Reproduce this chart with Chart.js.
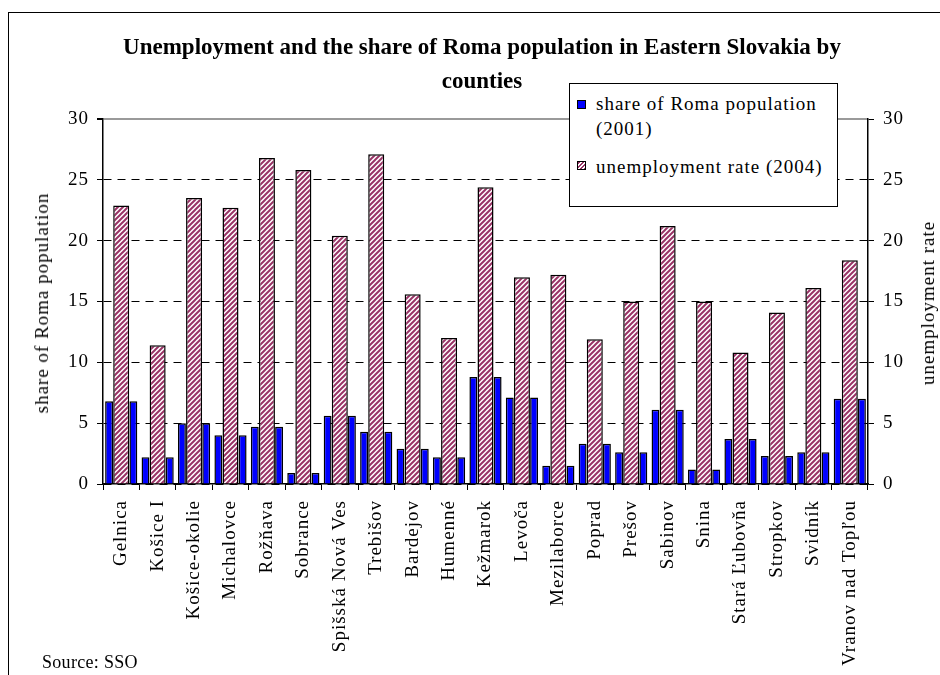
<!DOCTYPE html>
<html>
<head>
<meta charset="utf-8">
<script src="https://cdn.jsdelivr.net/npm/chart.js@4"></script>
<style>
  body { margin: 0; background: #fff; font-family: "Liberation Serif", serif; }
  #wrap { position: relative; width: 940px; height: 675px; overflow: hidden; }
  #frame { position: absolute; left: 8px; top: 12px; width: 960px; height: 700px; border-left: 1px solid #000; border-top: 1px solid #000; }
  canvas { position: absolute; left: 0; top: 0; }
  .title { position: absolute; left: 0; width: 964px; text-align: center; font-weight: bold; font-size: 23px; line-height: 26px; }
  .rot { position: absolute; white-space: nowrap; font-size: 19px; letter-spacing: 1px; transform: translate(-50%, -50%) rotate(-90deg); }
  #legend { position: absolute; left: 569px; top: 83px; width: 269px; height: 124px; box-sizing: border-box; border: 1px solid #000; background: #fff; font-size: 19px; letter-spacing: 1px; }
  #legend .sw { position: absolute; width: 9px; height: 9px; box-sizing: border-box; border: 1.5px solid #000; }
  #legend .tx { position: absolute; left: 26px; width: 240px; line-height: 25px; }
  #source { position: absolute; left: 42px; top: 652px; font-size: 18px; letter-spacing: 0.3px; }
</style>
</head>
<body>
<div id="wrap">
  <div id="frame"></div>
  <canvas id="chart" width="940" height="675"></canvas>
  <div class="title" style="top:34px">Unemployment and the share of Roma population in Eastern Slovakia by</div>
  <div class="title" style="top:68px">counties</div>
  <div class="rot" style="left:42px; top:303px">share of Roma population</div>
  <div class="rot" style="left:928px; top:303px">unemployment rate</div>
  <div id="legend">
    <div class="sw" style="left:7px; top:16px; background:#0000ff"></div>
    <div class="tx" style="top:7px">share of Roma population (2001)</div>
    <div class="sw" style="left:7px; top:77px; background:repeating-linear-gradient(135deg, #993366 0 1.5px, #fff 1.5px 3px)"></div>
    <div class="tx" style="top:70px">unemployment rate (2004)</div>
  </div>
  <div id="source">Source: SSO</div>
</div>
<script>
const counties = ['Gelnica', 'Košice I', 'Košice-okolie', 'Michalovce', 'Rožňava', 'Sobrance',
  'Spišská Nová Ves', 'Trebišov', 'Bardejov', 'Humenné', 'Kežmarok', 'Levoča', 'Mezilaborce',
  'Poprad', 'Prešov', 'Sabinov', 'Snina', 'Stará Ľubovňa', 'Stropkov', 'Svidník', 'Vranov nad Topľou'];

// share of Roma population (2001), %
const romaShare = [6.8, 2.2, 5.0, 4.0, 4.7, 0.9, 5.6, 4.3, 2.9, 2.2, 8.8, 7.1, 1.5, 3.3, 2.6, 6.1, 1.2, 3.7, 2.3, 2.6, 7.0];

// unemployment rate (2004), %
const unemploymentRate = [22.9, 11.4, 23.5, 22.7, 26.8, 25.8, 20.4, 27.1, 15.6, 12.0, 24.4, 17.0, 17.2, 11.9, 15.0, 21.2, 15.0, 10.8, 14.1, 16.1, 18.4];

const yTicks = [0, 5, 10, 15, 20, 25, 30];

// diagonal hatch like the excel fill
function hatch() {
  const t = document.createElement('canvas');
  t.width = 5; t.height = 5;
  const g = t.getContext('2d');
  g.fillStyle = '#fff';
  g.fillRect(0, 0, 5, 5);
  g.strokeStyle = '#993366';
  g.lineWidth = 2;
  g.beginPath();
  g.moveTo(0, 5); g.lineTo(5, 0);
  g.moveTo(-1, 1); g.lineTo(1, -1);
  g.moveTo(4, 6); g.lineTo(6, 4);
  g.stroke();
  return g.createPattern(t, 'repeat');
}

const spacing = {
  id: 'spacing',
  beforeUpdate(c) { c.ctx.letterSpacing = '1px'; },
  beforeDraw(c) { c.ctx.letterSpacing = '1px'; }
};

const tickFont = { family: 'Liberation Serif', size: 19 };

const blue = {
  data: romaShare,
  backgroundColor: '#0000ff',
  borderColor: '#000',
  borderWidth: 1.5,
  yAxisID: 'y',
  categoryPercentage: 1,
  barPercentage: 0.65
};

const ctx = document.getElementById('chart').getContext('2d');

new Chart(ctx, {
  type: 'bar',
  data: {
    labels: counties,
    datasets: [
      Object.assign({ label: 'share of Roma population (2001)' }, blue),
      {
        label: 'unemployment rate (2004)',
        data: unemploymentRate,
        backgroundColor: hatch(),
        borderColor: '#000',
        borderWidth: 1.5,
        yAxisID: 'y2',
        categoryPercentage: 1,
        barPercentage: 1.32
      },
      Object.assign({ label: 'share of Roma population (2001) ' }, blue)
    ]
  },
  plugins: [spacing],
  options: {
    responsive: false,
    animation: false,
    layout: { autoPadding: false, padding: { left: 50, right: 22, top: 119, bottom: 8 } },
    plugins: {
      legend: { display: false },
      title: { display: false },
      tooltip: { enabled: false }
    },
    scales: {
      x: {
        offset: true,
        afterFit(s) { s.height = 183; },
        grid: { offset: true, drawOnChartArea: false, tickLength: 6, tickColor: '#000', tickWidth: 1 },
        border: { color: '#000', width: 1.5 },
        ticks: { color: '#000', font: tickFont, minRotation: 90, maxRotation: 90, autoSkip: false, padding: 10 }
      },
      y: {
        position: 'left',
        min: 0,
        max: 30,
        afterBuildTicks(s) { s.ticks = yTicks.map(v => ({ value: v })); },
        afterFit(s) { s.width = 53; },
        grid: {
          color: c => (c.tick && c.tick.value === 30 ? '#9a9a9a' : '#000'),
          lineWidth: c => (c.tick && c.tick.value === 30 ? 2 : 1),
          tickColor: '#000',
          tickLength: 6,
          tickBorderDash: []
        },
        border: {
          color: '#000',
          width: 1.5,
          dash: c => (c.tick && c.tick.value === 30 ? [] : [8, 6])
        },
        ticks: { color: '#000', font: tickFont, padding: 8 }
      },
      y2: {
        position: 'right',
        min: 0,
        max: 30,
        afterBuildTicks(s) { s.ticks = yTicks.map(v => ({ value: v })); },
        afterFit(s) { s.width = 50; },
        grid: { drawOnChartArea: false, tickColor: '#000', tickLength: 6 },
        border: { color: '#000', width: 1.5 },
        ticks: { color: '#000', font: tickFont, padding: 9 }
      }
    }
  }
});
</script>
</body>
</html>
